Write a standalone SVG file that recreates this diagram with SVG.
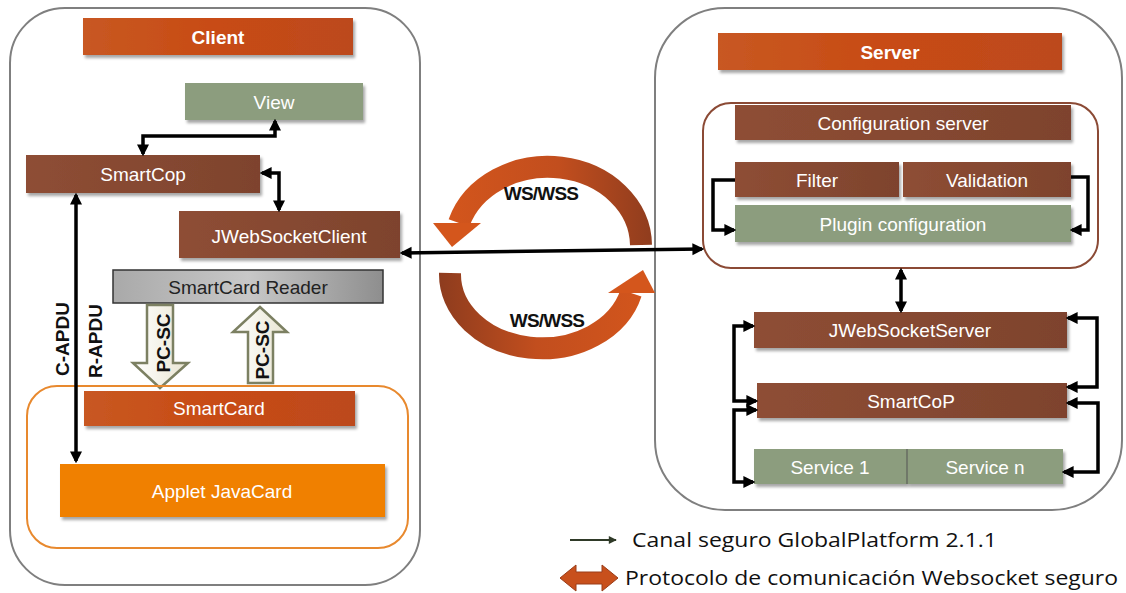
<svg xmlns="http://www.w3.org/2000/svg" width="1126" height="593" viewBox="0 0 1126 593">
<style>
.lbl{font-family:"Liberation Sans",Arial,sans-serif;font-size:19px;fill:#fff;text-anchor:middle;dominant-baseline:central}
.ttl{font-family:"Liberation Sans",Arial,sans-serif;font-size:19px;font-weight:bold;fill:#fff;text-anchor:middle;dominant-baseline:central}
.blk{font-family:"Liberation Sans",Arial,sans-serif;font-weight:bold;fill:#111;text-anchor:middle;dominant-baseline:central}
.leg{font-family:"Open Sans","Noto Sans",sans-serif;font-size:20px;fill:#111}
.frame{fill:#fff;stroke:#7f7f7f;stroke-width:2}
.brown{fill:url(#gBrown);filter:url(#sh)}
.green{fill:#8C9D7E;filter:url(#sh)}
.title{fill:url(#gTitle);filter:url(#sh)}
.con{fill:none;stroke:#000;stroke-width:3.5}
.bi{marker-start:url(#ah);marker-end:url(#ah)}
.one{marker-end:url(#ah)}
.pcsc{fill:url(#gPc);stroke:#7C8062;stroke-width:2.5}
</style>
<defs>
<filter id="sh" x="-5%" y="-20%" width="112%" height="150%">
<feDropShadow dx="2" dy="3" stdDeviation="1.5" flood-color="#000" flood-opacity="0.35"/>
</filter>
<linearGradient id="gBrown" x1="0" y1="0" x2="1" y2="0">
<stop offset="0" stop-color="#8E4E35"/><stop offset="1" stop-color="#7E432D"/>
</linearGradient>
<linearGradient id="gTitle" x1="0" y1="0" x2="1" y2="0">
<stop offset="0" stop-color="#C85822"/><stop offset="0.5" stop-color="#C84B14"/><stop offset="1" stop-color="#BC4A1E"/>
</linearGradient>
<linearGradient id="gGray" x1="0" y1="0" x2="1" y2="0">
<stop offset="0" stop-color="#A9A9A9"/><stop offset="0.5" stop-color="#C8C8C8"/><stop offset="1" stop-color="#8E8E8E"/>
</linearGradient>
<linearGradient id="gPc" x1="0" y1="0" x2="1" y2="0">
<stop offset="0" stop-color="#FFFFFF"/><stop offset="1" stop-color="#E9E5D2"/>
</linearGradient>
<linearGradient id="gArcTop" gradientUnits="userSpaceOnUse" x1="440" y1="0" x2="655" y2="0">
<stop offset="0" stop-color="#D4561C"/><stop offset="0.55" stop-color="#C24E1E"/><stop offset="1" stop-color="#8E3C1E"/>
</linearGradient>
<linearGradient id="gArcBot" gradientUnits="userSpaceOnUse" x1="440" y1="0" x2="655" y2="0">
<stop offset="0" stop-color="#8E3C1E"/><stop offset="0.45" stop-color="#C24E1E"/><stop offset="1" stop-color="#D4561C"/>
</linearGradient>
<marker id="ah" viewBox="0 0 10 10" refX="8" refY="5" markerWidth="12" markerHeight="13" markerUnits="userSpaceOnUse" orient="auto-start-reverse">
<path d="M0,0 L10,5 L0,10 z" fill="#000"/>
</marker>
<marker id="ahs" viewBox="0 0 10 10" refX="9" refY="5" markerWidth="9" markerHeight="8" markerUnits="userSpaceOnUse" orient="auto">
<path d="M0,0 L10,5 L0,10 z" fill="#2F3A28"/>
</marker>
</defs>

<g id="client-frame"><rect class="frame" x="10" y="8" width="410" height="577" rx="55"/></g>
<g id="server-frame"><rect class="frame" x="655" y="8" width="467" height="502" rx="70"/></g>

<g id="ws-arcs">
<path d="M641,245 A93,79 0 0 0 459,223" fill="none" stroke="url(#gArcTop)" stroke-width="22"/>
<polygon points="433,223 481,223 452,247" fill="#D4561C"/>
<path d="M450,273 A92,74 0 0 0 631,293" fill="none" stroke="url(#gArcBot)" stroke-width="22"/>
<polygon points="608,293 655,293 643,270" fill="#D4561C"/>
<text class="blk" x="541" y="193" font-size="19" letter-spacing="-0.8">WS/WSS</text>
<text class="blk" x="547" y="320" font-size="19" letter-spacing="-0.8">WS/WSS</text>
</g>

<g id="client-title"><rect class="title" x="83" y="18" width="270" height="37"/><text class="ttl" x="218" y="37">Client</text></g>
<g id="view"><rect class="green" x="185" y="83" width="178" height="37"/><text class="lbl" x="274" y="102">View</text></g>
<g id="smartcop"><rect class="brown" x="26" y="155" width="234" height="38"/><text class="lbl" x="143" y="174">SmartCop</text></g>
<g id="jwebsocketclient"><rect class="brown" x="179" y="211" width="221" height="47"/><text class="lbl" x="289" y="236">JWebSocketClient</text></g>
<g id="reader"><rect x="113" y="270" width="270" height="33" fill="url(#gGray)" stroke="#333" stroke-width="1.5"/><text class="lbl" x="248" y="287" style="fill:#222">SmartCard Reader</text></g>

<g id="pcsc-down"><polygon class="pcsc" points="147,305 173,305 173,363 188,363 160,388 133,363 147,363"/><text class="blk" x="0" y="0" font-size="19" transform="translate(163,343) rotate(-90)">PC-SC</text></g>
<g id="pcsc-up"><polygon class="pcsc" points="248,383 273,383 273,332 287,332 260,307 233,332 248,332"/><text class="blk" x="0" y="0" font-size="19" transform="translate(262,350) rotate(-90)">PC-SC</text></g>

<g id="apdu-labels">
<text class="blk" x="0" y="0" font-size="19" transform="translate(62,339) rotate(-90)">C-APDU</text>
<text class="blk" x="0" y="0" font-size="19" transform="translate(95,341) rotate(-90)">R-APDU</text>
</g>

<g id="smartcard-group"><rect x="27" y="386" width="381" height="162" rx="30" fill="none" stroke="#E8892E" stroke-width="2"/></g>
<g id="smartcard"><rect class="title" x="84" y="391" width="271" height="35"/><text class="lbl" x="219" y="408">SmartCard</text></g>
<g id="applet"><rect x="60" y="464" width="325" height="53" fill="#F08000" filter="url(#sh)"/><text class="lbl" x="222" y="491">Applet JavaCard</text></g>

<g id="server-title"><rect class="title" x="718" y="33" width="344" height="37"/><text class="ttl" x="890" y="52">Server</text></g>
<g id="config-group"><rect x="703" y="103" width="395" height="165" rx="28" fill="none" stroke="#8B4A35" stroke-width="2"/></g>
<g id="config-server"><rect class="brown" x="735" y="105" width="336" height="35"/><text class="lbl" x="903" y="123">Configuration server</text></g>
<g id="filter"><rect class="brown" x="735" y="162" width="164" height="35"/><text class="lbl" x="817" y="180">Filter</text></g>
<g id="validation"><rect class="brown" x="903" y="162" width="168" height="35"/><text class="lbl" x="987" y="180">Validation</text></g>
<g id="plugin"><rect class="green" x="735" y="205" width="336" height="37"/><text class="lbl" x="903" y="224">Plugin configuration</text></g>
<g id="jwebsocketserver"><rect class="brown" x="754" y="312" width="313" height="36"/><text class="lbl" x="910" y="330">JWebSocketServer</text></g>
<g id="smartcop-server"><rect class="brown" x="757" y="383" width="310" height="35"/><text class="lbl" x="911" y="401">SmartCoP</text></g>
<g id="service1"><rect class="green" x="754" y="449" width="153" height="35"/><text class="lbl" x="830" y="467">Service 1</text></g>
<g id="servicen"><rect class="green" x="907" y="449" width="156" height="35"/><line x1="907" y1="449" x2="907" y2="484" stroke="#555" stroke-width="1"/><text class="lbl" x="985" y="467">Service n</text></g>

<g id="connectors">
<path class="con bi" d="M275,121 V136 H143 V154"/>
<path class="con bi" d="M262,173 H279 V210"/>
<path class="con bi" d="M76,195 V461"/>
<path class="con bi" d="M402,253 L702,249"/>
<path class="con one" d="M735,180 H713 V230 H734"/>
<path class="con one" d="M1071,177 H1088 V230 H1072"/>
<path class="con bi" d="M901,270 V311"/>
<path class="con bi" d="M753,326 H734 V401 H756"/>
<path class="con bi" d="M756,410 H734 V482 H753"/>
<path class="con bi" d="M1068,318 H1097 V387 H1068"/>
<path class="con bi" d="M1068,403 H1098 V472 H1064"/>
</g>

<g id="legend">
<path d="M570,540 H616" stroke="#2F3A28" stroke-width="2" fill="none" marker-end="url(#ahs)"/>
<text class="leg" x="632" y="547" textLength="365" lengthAdjust="spacingAndGlyphs">Canal seguro GlobalPlatform 2.1.1</text>
<polygon points="560,578 576,565 576,572 602,572 602,565 618,578 602,591 602,584 576,584 576,591" fill="#C8501C" stroke="#9A3C18" stroke-width="1"/>
<text class="leg" x="625" y="585" textLength="493" lengthAdjust="spacingAndGlyphs">Protocolo de comunicación Websocket seguro</text>
</g>
</svg>
